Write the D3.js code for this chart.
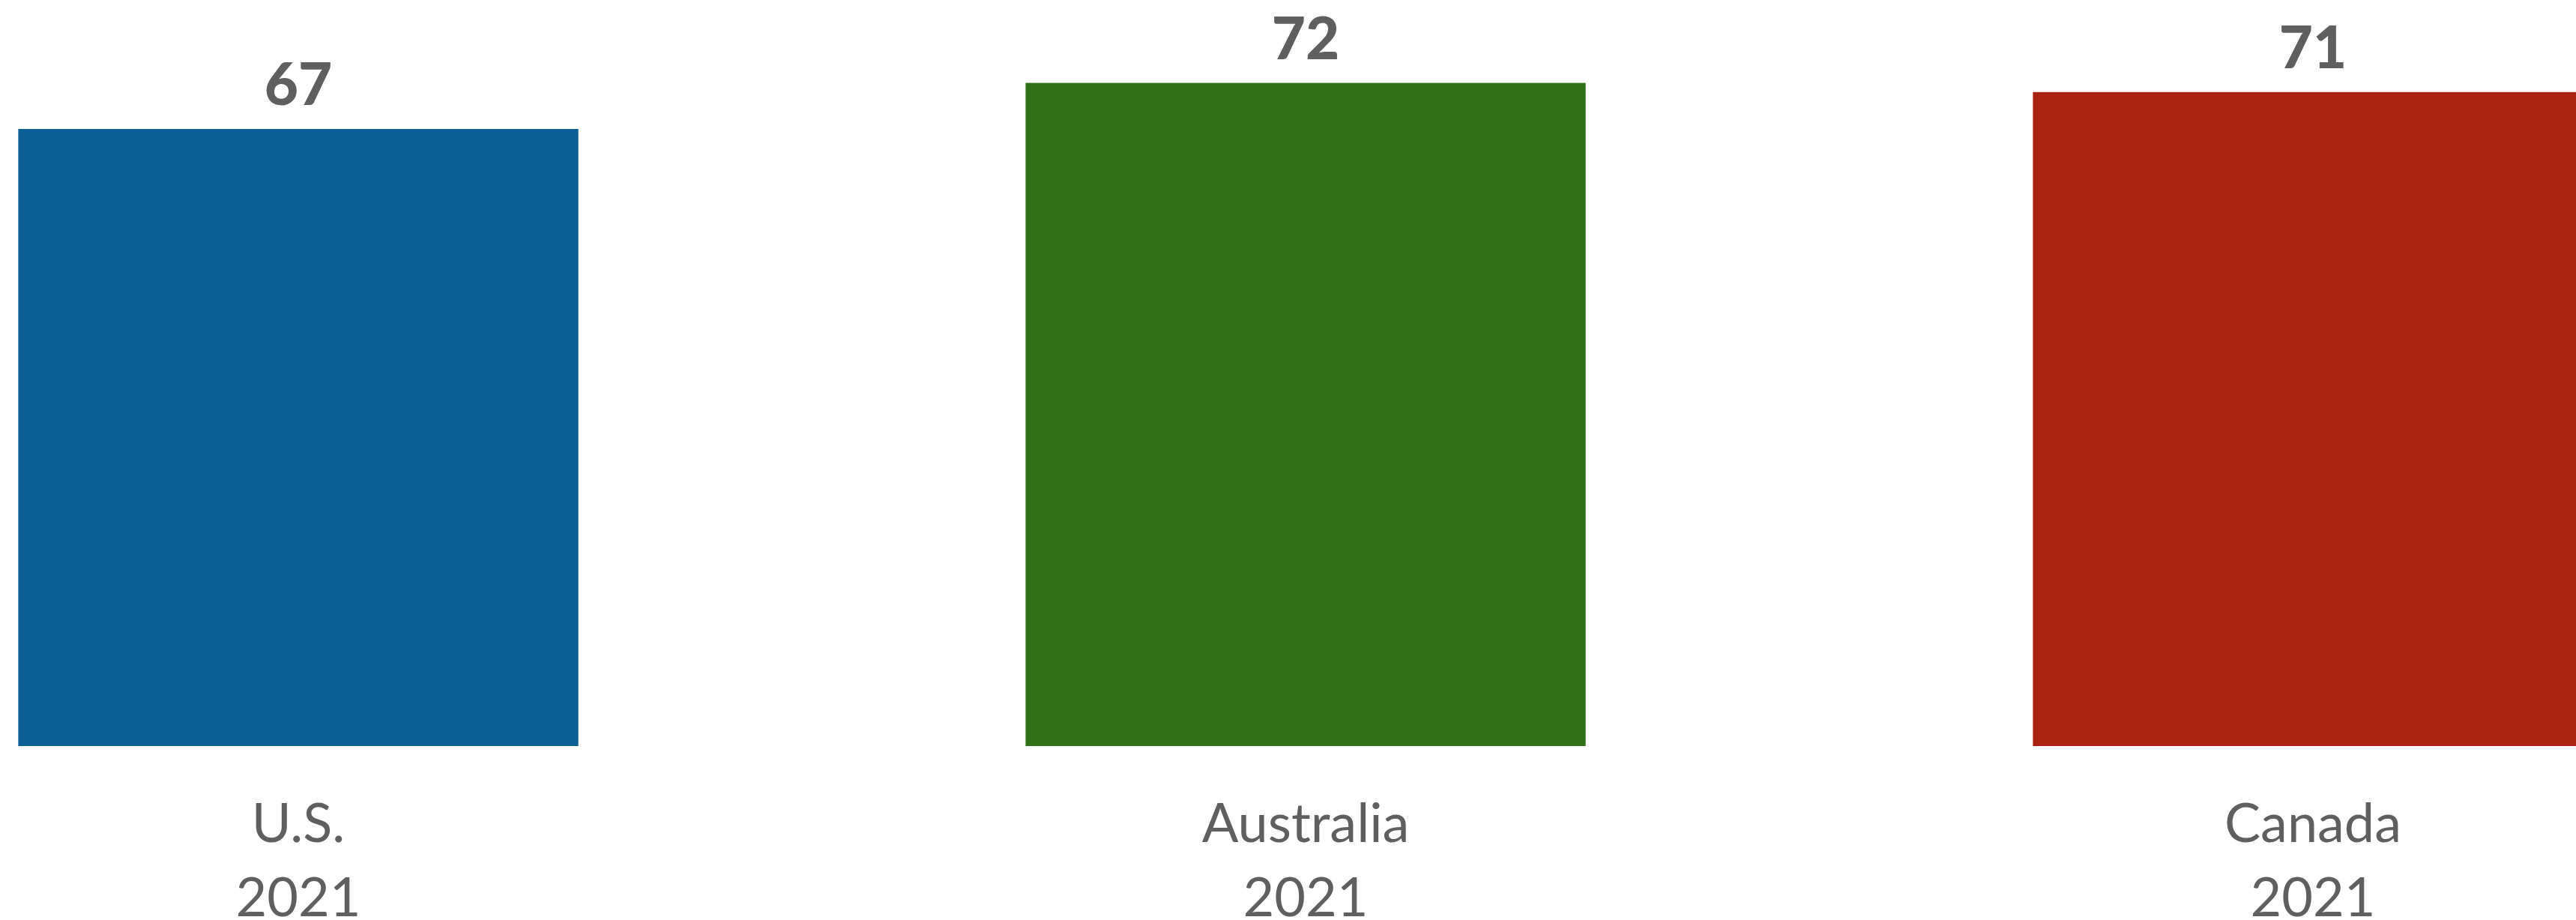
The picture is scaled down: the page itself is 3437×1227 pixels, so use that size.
<!DOCTYPE html>
<html>
<head>
<meta charset="utf-8">
<script src="https://cdn.jsdelivr.net/npm/d3@7"></script>
<style>
  html, body { margin: 0; padding: 0; background: #ffffff; overflow: hidden; }
  svg { display: block; }
</style>
</head>
<body>
<svg id="chart" width="3437" height="1227"></svg>
<script>
const categories = ["U.S.", "Australia", "Canada"];
const years = ["2021", "2021", "2021"];
const values = [67, 72, 71];
const colors = ["#0C5E96", "#307118", "#AA2211"];

const W = 3437, H = 1227;
const svg = d3.select("#chart");

const x = d3.scaleBand()
  .domain(categories)
  .range([-274, 3758])
  .paddingInner(0.444)
  .paddingOuter(0.222);

const y = d3.scaleLinear()
  .domain([0, 81])
  .range([995, 0]);

const data = categories.map((c, i) => ({ cat: c, year: years[i], value: values[i], color: colors[i] }));

svg.selectAll("rect.bar")
  .data(data)
  .join("rect")
  .attr("class", "bar")
  .attr("x", d => x(d.cat))
  .attr("width", x.bandwidth())
  .attr("y", d => y(d.value))
  .attr("height", d => y(0) - y(d.value))
  .attr("fill", d => d.color);

svg.selectAll("text.val")
  .data(data)
  .join("text")
  .attr("class", "val")
  .attr("x", d => x(d.cat) + x.bandwidth() / 2)
  .attr("y", d => y(d.value) - 32)
  .attr("text-anchor", "middle")
  .attr("font-family", "Lato, 'Open Sans', sans-serif")
  .attr("font-weight", 900)
  .attr("font-size", 78)
  .attr("fill", "#5F5F5F")
  .text(d => d.value);

const lab = svg.selectAll("text.cat")
  .data(data)
  .join("text")
  .attr("class", "cat")
  .attr("text-anchor", "middle")
  .attr("font-family", "Lato, 'Open Sans', sans-serif")
  .attr("font-size", 72)
  .attr("fill", "#5F5F5F");
lab.append("tspan")
  .attr("x", d => x(d.cat) + x.bandwidth() / 2)
  .attr("y", 1123)
  .text(d => d.cat);
lab.append("tspan")
  .attr("x", d => x(d.cat) + x.bandwidth() / 2)
  .attr("y", 1222)
  .text(d => d.year);
</script>
</body>
</html>
